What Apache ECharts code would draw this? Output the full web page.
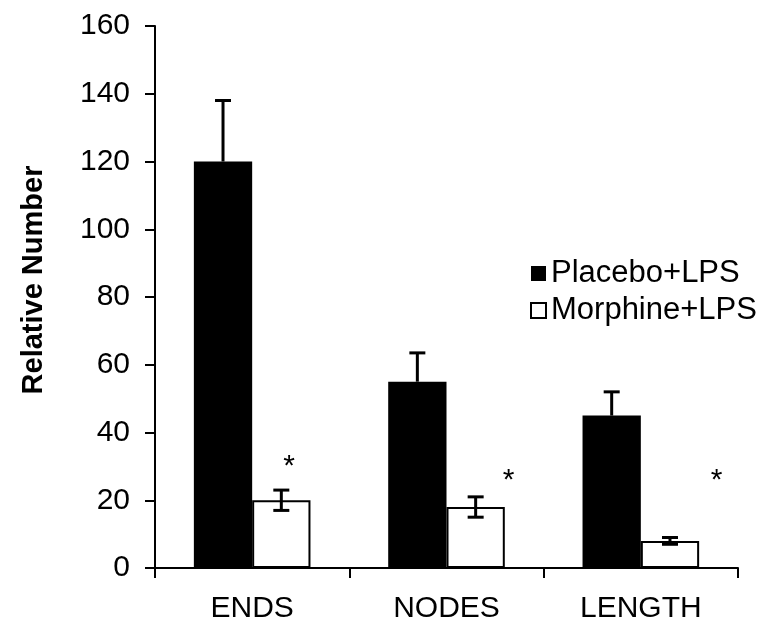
<!DOCTYPE html>
<html lang="en">
<head>
    <meta charset="UTF-8">
    <script src="https://cdn.jsdelivr.net/npm/echarts@6/dist/echarts.min.js"></script>
</head>
<body style="margin:0;background:#fff;">
<div id="main" style="width:783px;height:637px;"></div>
<script type="text/javascript">
    // data
    var categories = ['ENDS', 'NODES', 'LENGTH'];
    var placebo = [120, 55, 45];
    var placeboErr = [18, 8.5, 7];
    var morphine = [20, 18, 8];
    var morphineErr = [3, 3, 1];
    var starValues = [31, 27, 27];
    var yTicks = [0, 20, 40, 60, 80, 100, 120, 140, 160];

    // horizontal shift of the significance stars (fraction of category band)
    var starDx = [0.19, 0.32, 0.39];

    var font = 'Liberation Sans, Arial, sans-serif';
    var chart = echarts.init(document.getElementById('main'));

    function errorItem(values, errs, side, both) {
        return function (params, api) {
            var i = api.value(0);
            var band = api.size([1, 0])[0];
            var barW = band * 0.6 / 2;
            var c = api.coord([i, values[i]]);
            var x = c[0] + side * barW / 2;
            var top = api.coord([i, values[i] + errs[i]])[1];
            var bot = both ? api.coord([i, values[i] - errs[i]])[1] : c[1];
            var cap = 8;
            var st = { stroke: '#000', lineWidth: 3 };
            var kids = [
                { type: 'line', shape: { x1: x, y1: top, x2: x, y2: bot }, style: st },
                { type: 'line', shape: { x1: x - cap, y1: top, x2: x + cap, y2: top }, style: st }
            ];
            if (both) {
                kids.push({ type: 'line', shape: { x1: x - cap, y1: bot, x2: x + cap, y2: bot }, style: st });
            }
            return { type: 'group', children: kids };
        };
    }

    var option = {
        animation: false,
        backgroundColor: '#fff',
        grid: { left: 155, right: 45, top: 26, bottom: 69 },
        legend: {
            orient: 'vertical',
            left: 525,
            top: 253,
            itemGap: 6,
            itemWidth: 15,
            itemHeight: 15,
            textStyle: { fontSize: 31, color: '#000', fontFamily: font },
            data: [
                { name: 'Placebo+LPS', icon: 'rect', itemStyle: { color: '#000' } },
                { name: 'Morphine+LPS', icon: 'rect', itemStyle: { color: '#fff', borderColor: '#000', borderWidth: 2 } }
            ]
        },
        xAxis: {
            type: 'category',
            data: categories,
            axisLine: { lineStyle: { color: '#000', width: 2 } },
            axisTick: { show: true, length: 10, lineStyle: { color: '#000', width: 2 } },
            axisLabel: { color: '#000', fontSize: 30, fontFamily: font, margin: 26 }
        },
        yAxis: {
            type: 'value',
            min: yTicks[0],
            max: yTicks[yTicks.length - 1],
            interval: 20,
            name: 'Relative Number',
            nameLocation: 'middle',
            nameGap: 107,
            nameTextStyle: { fontSize: 29, fontWeight: 'bold', color: '#000', fontFamily: font, padding: [0, 0, 0, 34] },
            splitLine: { show: false },
            axisLine: { show: true, lineStyle: { color: '#000', width: 2 } },
            axisTick: { show: true, length: 10, lineStyle: { color: '#000', width: 2 } },
            axisLabel: { color: '#000', fontSize: 30, fontFamily: font, margin: 25 }
        },
        series: [
            {
                name: 'Placebo+LPS',
                type: 'bar',
                data: placebo,
                barGap: '0%',
                barCategoryGap: '40%',
                itemStyle: { color: '#000' }
            },
            {
                name: 'Morphine+LPS',
                type: 'bar',
                data: morphine,
                itemStyle: { color: '#fff', borderColor: '#000', borderWidth: 2 }
            },
            {
                type: 'custom',
                data: categories.map(function (c, i) { return [i]; }),
                renderItem: errorItem(placebo, placeboErr, -1, false),
                z: 5
            },
            {
                type: 'custom',
                data: categories.map(function (c, i) { return [i]; }),
                renderItem: errorItem(morphine, morphineErr, 1, true),
                z: 5
            },
            {
                type: 'custom',
                data: starValues.map(function (v, i) { return [i, v]; }),
                renderItem: function (params, api) {
                    var i = api.value(0);
                    var band = api.size([1, 0])[0];
                    var p = api.coord([i, api.value(1)]);
                    return {
                        type: 'text',
                        x: p[0] + starDx[i] * band,
                        y: p[1] + 4,
                        style: {
                            text: '*', fontSize: 30, fontFamily: font, fill: '#000',
                            align: 'center', verticalAlign: 'middle'
                        }
                    };
                },
                z: 6
            }
        ]
    };
    chart.setOption(option);
</script>
</body>
</html>
